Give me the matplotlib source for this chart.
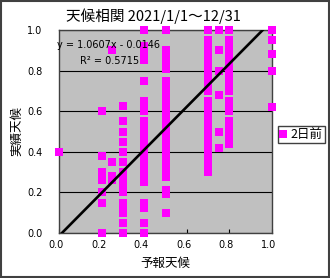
import matplotlib
matplotlib.use('Agg')
import matplotlib.pyplot as plt
import matplotlib.transforms as mtransforms
from matplotlib.patches import Rectangle
import numpy as np

x_0_0 = [0.40]
x_0_2 = [0.60, 0.38, 0.30, 0.28, 0.26, 0.20, 0.15, 0.00]
x_0_25 = [0.90, 0.35, 0.28, 0.26]
x_0_3 = [0.625, 0.55, 0.50, 0.45, 0.40, 0.35, 0.30, 0.275, 0.25, 0.225,
         0.20, 0.15, 0.125, 0.10, 0.05, 0.00]
x_0_4 = [1.00, 0.92, 0.90, 0.875, 0.85, 0.75, 0.65, 0.625, 0.60, 0.55,
         0.525, 0.50, 0.475, 0.45, 0.425, 0.40, 0.375, 0.35, 0.325, 0.30,
         0.275, 0.25, 0.15, 0.125, 0.05, 0.00]
x_0_5 = [1.00, 0.90, 0.86, 0.83, 0.81, 0.75, 0.72, 0.70, 0.675, 0.65,
         0.62, 0.60, 0.575, 0.55, 0.525, 0.50, 0.48, 0.45, 0.41, 0.385,
         0.36, 0.33, 0.30, 0.275, 0.21, 0.19, 0.10]
x_0_7 = [1.00, 0.95, 0.91, 0.885, 0.86, 0.835, 0.81, 0.785, 0.76, 0.74,
         0.70, 0.65, 0.625, 0.60, 0.56, 0.535, 0.51, 0.48, 0.45, 0.41,
         0.385, 0.36, 0.34, 0.30]
x_0_75 = [1.00, 0.90, 0.80, 0.68, 0.50, 0.42]
x_0_8 = [1.00, 0.95, 0.91, 0.885, 0.86, 0.835, 0.81, 0.785, 0.76, 0.74,
         0.70, 0.65, 0.625, 0.60, 0.55, 0.51, 0.485, 0.46, 0.44]
x_1_0 = [1.00, 0.95, 0.88, 0.80, 0.62]

columns = {0.0: x_0_0, 0.2: x_0_2, 0.25: x_0_25, 0.3: x_0_3, 0.4: x_0_4,
           0.5: x_0_5, 0.7: x_0_7, 0.75: x_0_75, 0.8: x_0_8, 1.0: x_1_0}

slope = 1.0607
intercept = -0.0146
r2 = 0.5715

ticks = [0.0, 0.2, 0.4, 0.6, 0.8, 1.0]

xs = []
ys = []
for fx, vals in columns.items():
    for v in vals:
        xs.append(fx)
        ys.append(v)

jp = ['Noto Sans CJK JP', 'DejaVu Sans']

fig = plt.figure(figsize=(3.3, 2.78), dpi=100)
ax = fig.add_axes([59 / 330, 45 / 278, 213 / 330, 203 / 278])
ax.set_facecolor('#C0C0C0')

ax.plot(xs, ys, linestyle='none', marker='s', markersize=5.5,
        color='#FF00FF', markeredgewidth=0, clip_on=False, zorder=3,
        label='2日前')

lx = np.array([0.0, 1.0])
ax.plot(lx, slope * lx + intercept, color='black', linewidth=1.9, zorder=4)

ax.set_xlim(0, 1)
ax.set_ylim(0, 1)
ax.set_xticks(ticks)
ax.set_yticks(ticks)
ax.set_xticklabels([f'{t:.1f}' for t in ticks], fontsize=7)
ax.set_yticklabels([f'{t:.1f}' for t in ticks], fontsize=7)
ax.tick_params(axis='x', direction='in', length=3, pad=5)
ax.tick_params(axis='y', length=0, pad=12)
shift = mtransforms.ScaledTranslation(-3 / 100, 0, fig.dpi_scale_trans)
for lab in ax.get_xticklabels():
    lab.set_transform(lab.get_transform() + shift)

ax.grid(axis='y', color='black', linewidth=0.8)
ax.set_axisbelow(True)
for s in ax.spines.values():
    s.set_color('#404040')
    s.set_linewidth(1)

ax.set_xlabel('予報天候', family=jp, fontsize=9, labelpad=5)
ax.set_ylabel('実績天候', family=jp, fontsize=9, labelpad=3)

ax.text(-0.01, 0.926, f'y = {slope:.4f}x - {abs(intercept):.4f}',
        transform=ax.transAxes, fontsize=7, ha='left', va='center', zorder=5)
ax.text(0.237, 0.847, f'R² = {r2:.4f}', transform=ax.transAxes,
        fontsize=7, ha='center', va='center', zorder=5)

fig.text(0.4636, 1 - 16 / 278, '天候相関 2021/1/1～12/31', family=jp,
         fontsize=10.5, ha='center', va='center')

leg = ax.legend(loc='center', bbox_to_anchor=(301 / 330, 1 - 134.5 / 278),
                bbox_transform=fig.transFigure, prop={'family': jp, 'size': 9},
                fancybox=False, edgecolor='#404040', framealpha=1,
                handlelength=0.6, handletextpad=0.3, borderpad=0.15,
                borderaxespad=0, markerscale=1.0)
leg.get_frame().set_linewidth(1)

fig.patches.append(Rectangle((0.002, 0.002), 0.996, 0.995,
                             transform=fig.transFigure, fill=False,
                             edgecolor='#404040', linewidth=1.5))

fig.savefig('out.png', dpi=100)
